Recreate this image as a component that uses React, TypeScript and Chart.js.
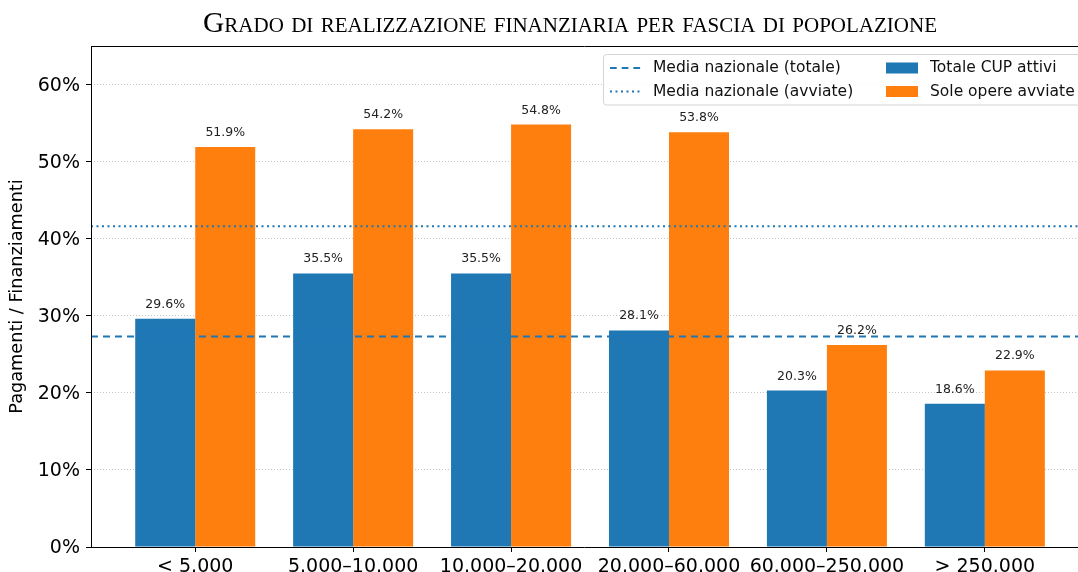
import React, { useEffect, useRef } from 'react';
import { Chart, registerables } from 'chart.js';

Chart.register(...registerables);

const categories = ['< 5.000', '5.000–10.000', '10.000–20.000', '20.000–60.000', '60.000–250.000', '> 250.000'];
const totaleCup = [29.6, 35.5, 35.5, 28.1, 20.3, 18.6];
const soleAvviate = [51.9, 54.2, 54.8, 53.8, 26.2, 22.9];
const mediaTotale = 27.3;
const mediaAvviate = 41.6;
const yTicks = [0, 10, 20, 30, 40, 50, 60];
const seriesNames = ['Totale CUP attivi', 'Sole opere avviate'];
const lineNames = ['Media nazionale (totale)', 'Media nazionale (avviate)'];
const titleText = 'Grado di realizzazione finanziaria per fascia di popolazione';
const yLabel = 'Pagamenti / Finanziamenti';

const BLUE = '#1f77b4';
const ORANGE = '#ff7f0e';
const FONT = '"DejaVu Sans", sans-serif';

const overlayPlugin = {
  id: 'overlay',
  afterDatasetsDraw(chart: any) {
    const { ctx, chartArea, scales } = chart;
    const { left, right, top, bottom } = chartArea;

    // average lines
    ctx.save();
    ctx.beginPath();
    ctx.rect(left, top, right - left, bottom - top);
    ctx.clip();
    ctx.strokeStyle = BLUE;
    ctx.lineWidth = 2;
    const yT = scales.y.getPixelForValue(mediaTotale);
    ctx.setLineDash([7, 5]);
    ctx.beginPath();
    ctx.moveTo(left, yT);
    ctx.lineTo(right, yT);
    ctx.stroke();
    const yA = scales.y.getPixelForValue(mediaAvviate);
    ctx.setLineDash([2, 3.5]);
    ctx.beginPath();
    ctx.moveTo(left, yA);
    ctx.lineTo(right, yA);
    ctx.stroke();
    ctx.restore();

    // value labels
    ctx.save();
    ctx.font = `12.5px ${FONT}`;
    ctx.fillStyle = '#222';
    ctx.textAlign = 'center';
    ctx.textBaseline = 'alphabetic';
    chart.data.datasets.forEach((ds: any, di: number) => {
      const meta = chart.getDatasetMeta(di);
      meta.data.forEach((el: any, i: number) => {
        const v = ds.data[i].y;
        ctx.fillText(`${v.toFixed(1)}%`, el.x, el.y - 11);
      });
    });
    ctx.restore();

    // spines
    ctx.save();
    ctx.strokeStyle = '#000';
    ctx.lineWidth = 1;
    ctx.setLineDash([]);
    ctx.beginPath();
    ctx.moveTo(left + 0.5, top);
    ctx.lineTo(left + 0.5, bottom);
    ctx.moveTo(left, bottom + 0.5);
    ctx.lineTo(right, bottom + 0.5);
    ctx.moveTo(left, top + 0.5);
    ctx.lineTo(right, top + 0.5);
    ctx.stroke();
    ctx.restore();

    // legend
    ctx.save();
    const lx = 603.5, ly = 54.5, lw = 520, lh = 50.5, r = 3;
    ctx.beginPath();
    ctx.moveTo(lx + r, ly);
    ctx.lineTo(lx + lw - r, ly);
    ctx.arcTo(lx + lw, ly, lx + lw, ly + r, r);
    ctx.lineTo(lx + lw, ly + lh - r);
    ctx.arcTo(lx + lw, ly + lh, lx + lw - r, ly + lh, r);
    ctx.lineTo(lx + r, ly + lh);
    ctx.arcTo(lx, ly + lh, lx, ly + lh - r, r);
    ctx.lineTo(lx, ly + r);
    ctx.arcTo(lx, ly, lx + r, ly, r);
    ctx.closePath();
    ctx.fillStyle = 'rgba(255,255,255,0.85)';
    ctx.fill();
    ctx.strokeStyle = '#d4d4d4';
    ctx.lineWidth = 1;
    ctx.stroke();

    const rows = [68, 91.5];
    ctx.strokeStyle = BLUE;
    ctx.lineWidth = 2;
    ctx.setLineDash([6.7, 5]);
    ctx.beginPath();
    ctx.moveTo(610, rows[0]);
    ctx.lineTo(641, rows[0]);
    ctx.stroke();
    ctx.setLineDash([2, 3.5]);
    ctx.beginPath();
    ctx.moveTo(610, rows[1]);
    ctx.lineTo(641, rows[1]);
    ctx.stroke();
    ctx.setLineDash([]);

    ctx.fillStyle = BLUE;
    ctx.fillRect(886, rows[0] - 5.5, 32, 11);
    ctx.fillStyle = ORANGE;
    ctx.fillRect(886, rows[1] - 5.5, 32, 11);

    ctx.fillStyle = '#111';
    ctx.font = `15.5px ${FONT}`;
    ctx.textAlign = 'left';
    ctx.textBaseline = 'middle';
    ctx.fillText(lineNames[0], 653, rows[0]);
    ctx.fillText(lineNames[1], 653, rows[1]);
    ctx.fillText(seriesNames[0], 930, rows[0]);
    ctx.fillText(seriesNames[1], 930, rows[1]);
    ctx.restore();
  },
  afterDraw(chart: any) {
    const { ctx } = chart;
    ctx.save();
    ctx.font = 'small-caps 29.5px "Liberation Serif", serif';
    try { (ctx as any).fontVariantCaps = 'small-caps'; } catch (e) {}
    ctx.fillStyle = '#000';
    ctx.textAlign = 'center';
    ctx.textBaseline = 'alphabetic';
    ctx.fillText(titleText, 570, 32);
    ctx.restore();
  },
};

export default function App() {
  const canvasRef = useRef<HTMLCanvasElement | null>(null);

  useEffect(() => {
    document.body.style.margin = '0';
    const canvas = canvasRef.current;
    if (!canvas) return;
    const chart = new Chart(canvas, {
      type: 'bar',
      data: {
        datasets: [
          {
            label: seriesNames[0],
            data: totaleCup.map((v, i) => ({ x: i, y: v })),
            backgroundColor: BLUE,
            borderWidth: 0,
          },
          {
            label: seriesNames[1],
            data: soleAvviate.map((v, i) => ({ x: i, y: v })),
            backgroundColor: ORANGE,
            borderWidth: 0,
          },
        ],
      },
      options: {
        responsive: false,
        animation: false,
        devicePixelRatio: 1,
        layout: { padding: { top: 46, left: 0, right: 0, bottom: 0 } },
        datasets: { bar: { categoryPercentage: 0.76, barPercentage: 1 } },
        plugins: {
          legend: { display: false },
          title: { display: false },
          tooltip: { enabled: false },
        },
        scales: {
          x: {
            type: 'linear',
            offset: false,
            min: -0.66,
            max: 5.59,
            afterBuildTicks: (s: any) => {
              s.ticks = categories.map((_, i) => ({ value: i }));
            },
            afterFit: (s: any) => {
              s.height = 25;
            },
            ticks: {
              callback: (v: any) => categories[v] ?? '',
              font: { family: FONT, size: 19 },
              color: '#000',
              padding: 4,
              autoSkip: false,
              maxRotation: 0,
              minRotation: 0,
            },
            grid: {
              offset: false,
              drawOnChartArea: false,
              drawTicks: true,
              tickColor: '#000',
              tickLength: 5,
              tickWidth: 1,
              tickBorderDash: [],
            },
            border: { display: false },
          },
          y: {
            min: 0,
            max: 65,
            afterBuildTicks: (s: any) => {
              s.ticks = yTicks.map((v) => ({ value: v }));
            },
            afterFit: (s: any) => {
              s.width = 91;
            },
            ticks: {
              callback: (v: any) => `${v}%`,
              font: { family: FONT, size: 19 },
              color: '#000',
              padding: 6,
              labelOffset: 1.5,
            },
            grid: {
              color: '#c4c4c4',
              lineWidth: 1,
              drawTicks: true,
              tickColor: '#000',
              tickLength: 5,
              tickWidth: 1,
              tickBorderDash: [],
              borderDash: [1, 2],
            } as any,
            border: { display: false, dash: [1, 2] },
            title: {
              display: true,
              text: yLabel,
              font: { family: FONT, size: 17.7 },
              color: '#000',
              padding: { top: 7, bottom: 0 },
            },
          },
        },
      } as any,
      plugins: [overlayPlugin],
    });
    return () => chart.destroy();
  }, []);

  return (
    <div style={{ width: 1078, height: 572, overflow: 'hidden' }}>
      <canvas ref={canvasRef} width={1078} height={572} style={{ display: 'block' }} />
    </div>
  );
}
